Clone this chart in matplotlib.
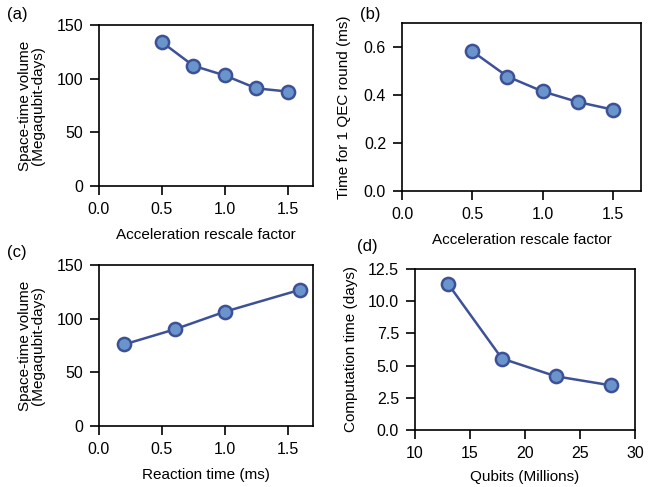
import matplotlib
matplotlib.use("Agg")
import matplotlib.pyplot as plt

plt.rcParams['font.family'] = ['Liberation Sans', 'DejaVu Sans']
plt.rcParams['font.size'] = 11

# (a) space-time volume vs acceleration rescale factor
accel = [0.5, 0.75, 1.0, 1.25, 1.5]
volume_a = [134, 112, 103, 91, 88]
# (b) time for one QEC round
qec_time = [0.582, 0.477, 0.415, 0.371, 0.339]
# (c) space-time volume vs reaction time
reaction = [0.2, 0.6, 1.0, 1.6]
volume_c = [76, 90, 106.5, 127]
# (d) computation time vs qubits
qubits = [13.0, 17.9, 22.8, 27.8]
comp_days = [11.35, 5.55, 4.17, 3.47]

line_col = '#3d5197'
fill_col = '#6a94cc'

fig = plt.figure(figsize=(6.57, 4.87), dpi=100)
W, H = 657, 487

def make_ax(l, t, r, b):
    return fig.add_axes([l / W, 1 - b / H, (r - l) / W, (b - t) / H])

ax_a = make_ax(99, 25, 313, 186)
ax_b = make_ax(402, 23, 641, 191)
ax_c = make_ax(99, 265, 313, 426)
ax_d = make_ax(415, 269, 635, 430)

def draw(ax, x, y):
    ax.plot(x, y, '-o', color=line_col, lw=1.8, ms=9.5,
            mfc=fill_col, mec=line_col, mew=1.8, clip_on=False, zorder=3)
    ax.tick_params(direction='out', length=6.5, width=1.2, pad=5, labelsize=11.5)
    for s in ax.spines.values():
        s.set_linewidth(1.2)

draw(ax_a, accel, volume_a)
ax_a.set_xlim(0, 1.7)
ax_a.set_ylim(0, 150)
ax_a.set_xticks([0.0, 0.5, 1.0, 1.5])
ax_a.set_yticks([0, 50, 100, 150])
ax_a.set_xlabel('Acceleration rescale factor', labelpad=8)
ax_a.set_ylabel('Space-time volume\n(Megaqubit-days)', labelpad=8, linespacing=0.95)

draw(ax_b, accel, qec_time)
ax_b.set_xlim(0, 1.7)
ax_b.set_ylim(0, 0.7)
ax_b.set_xticks([0.0, 0.5, 1.0, 1.5])
ax_b.set_yticks([0.0, 0.2, 0.4, 0.6])
ax_b.set_xlabel('Acceleration rescale factor', labelpad=8)
ax_b.set_ylabel('Time for 1 QEC round (ms)', labelpad=9)

draw(ax_c, reaction, volume_c)
ax_c.set_xlim(0, 1.7)
ax_c.set_ylim(0, 150)
ax_c.set_xticks([0.0, 0.5, 1.0, 1.5])
ax_c.set_yticks([0, 50, 100, 150])
ax_c.set_xlabel('Reaction time (ms)', labelpad=8)
ax_c.set_ylabel('Space-time volume\n(Megaqubit-days)', labelpad=8, linespacing=0.95)

draw(ax_d, qubits, comp_days)
ax_d.set_xlim(10, 30)
ax_d.set_ylim(0, 12.5)
ax_d.set_xticks([10, 15, 20, 25, 30])
ax_d.set_yticks([0.0, 2.5, 5.0, 7.5, 10.0, 12.5])
ax_d.set_xlabel('Qubits (Millions)', labelpad=6.5)
ax_d.set_ylabel('Computation time (days)', labelpad=7)

fig.text(7 / W, 1 - 15 / H, '(a)', fontsize=12, va='center')
fig.text(360 / W, 1 - 15 / H, '(b)', fontsize=12, va='center')
fig.text(7 / W, 1 - 252 / H, '(c)', fontsize=12, va='center')
fig.text(357 / W, 1 - 247 / H, '(d)', fontsize=12, va='center')

fig.savefig('out.png', dpi=100)
